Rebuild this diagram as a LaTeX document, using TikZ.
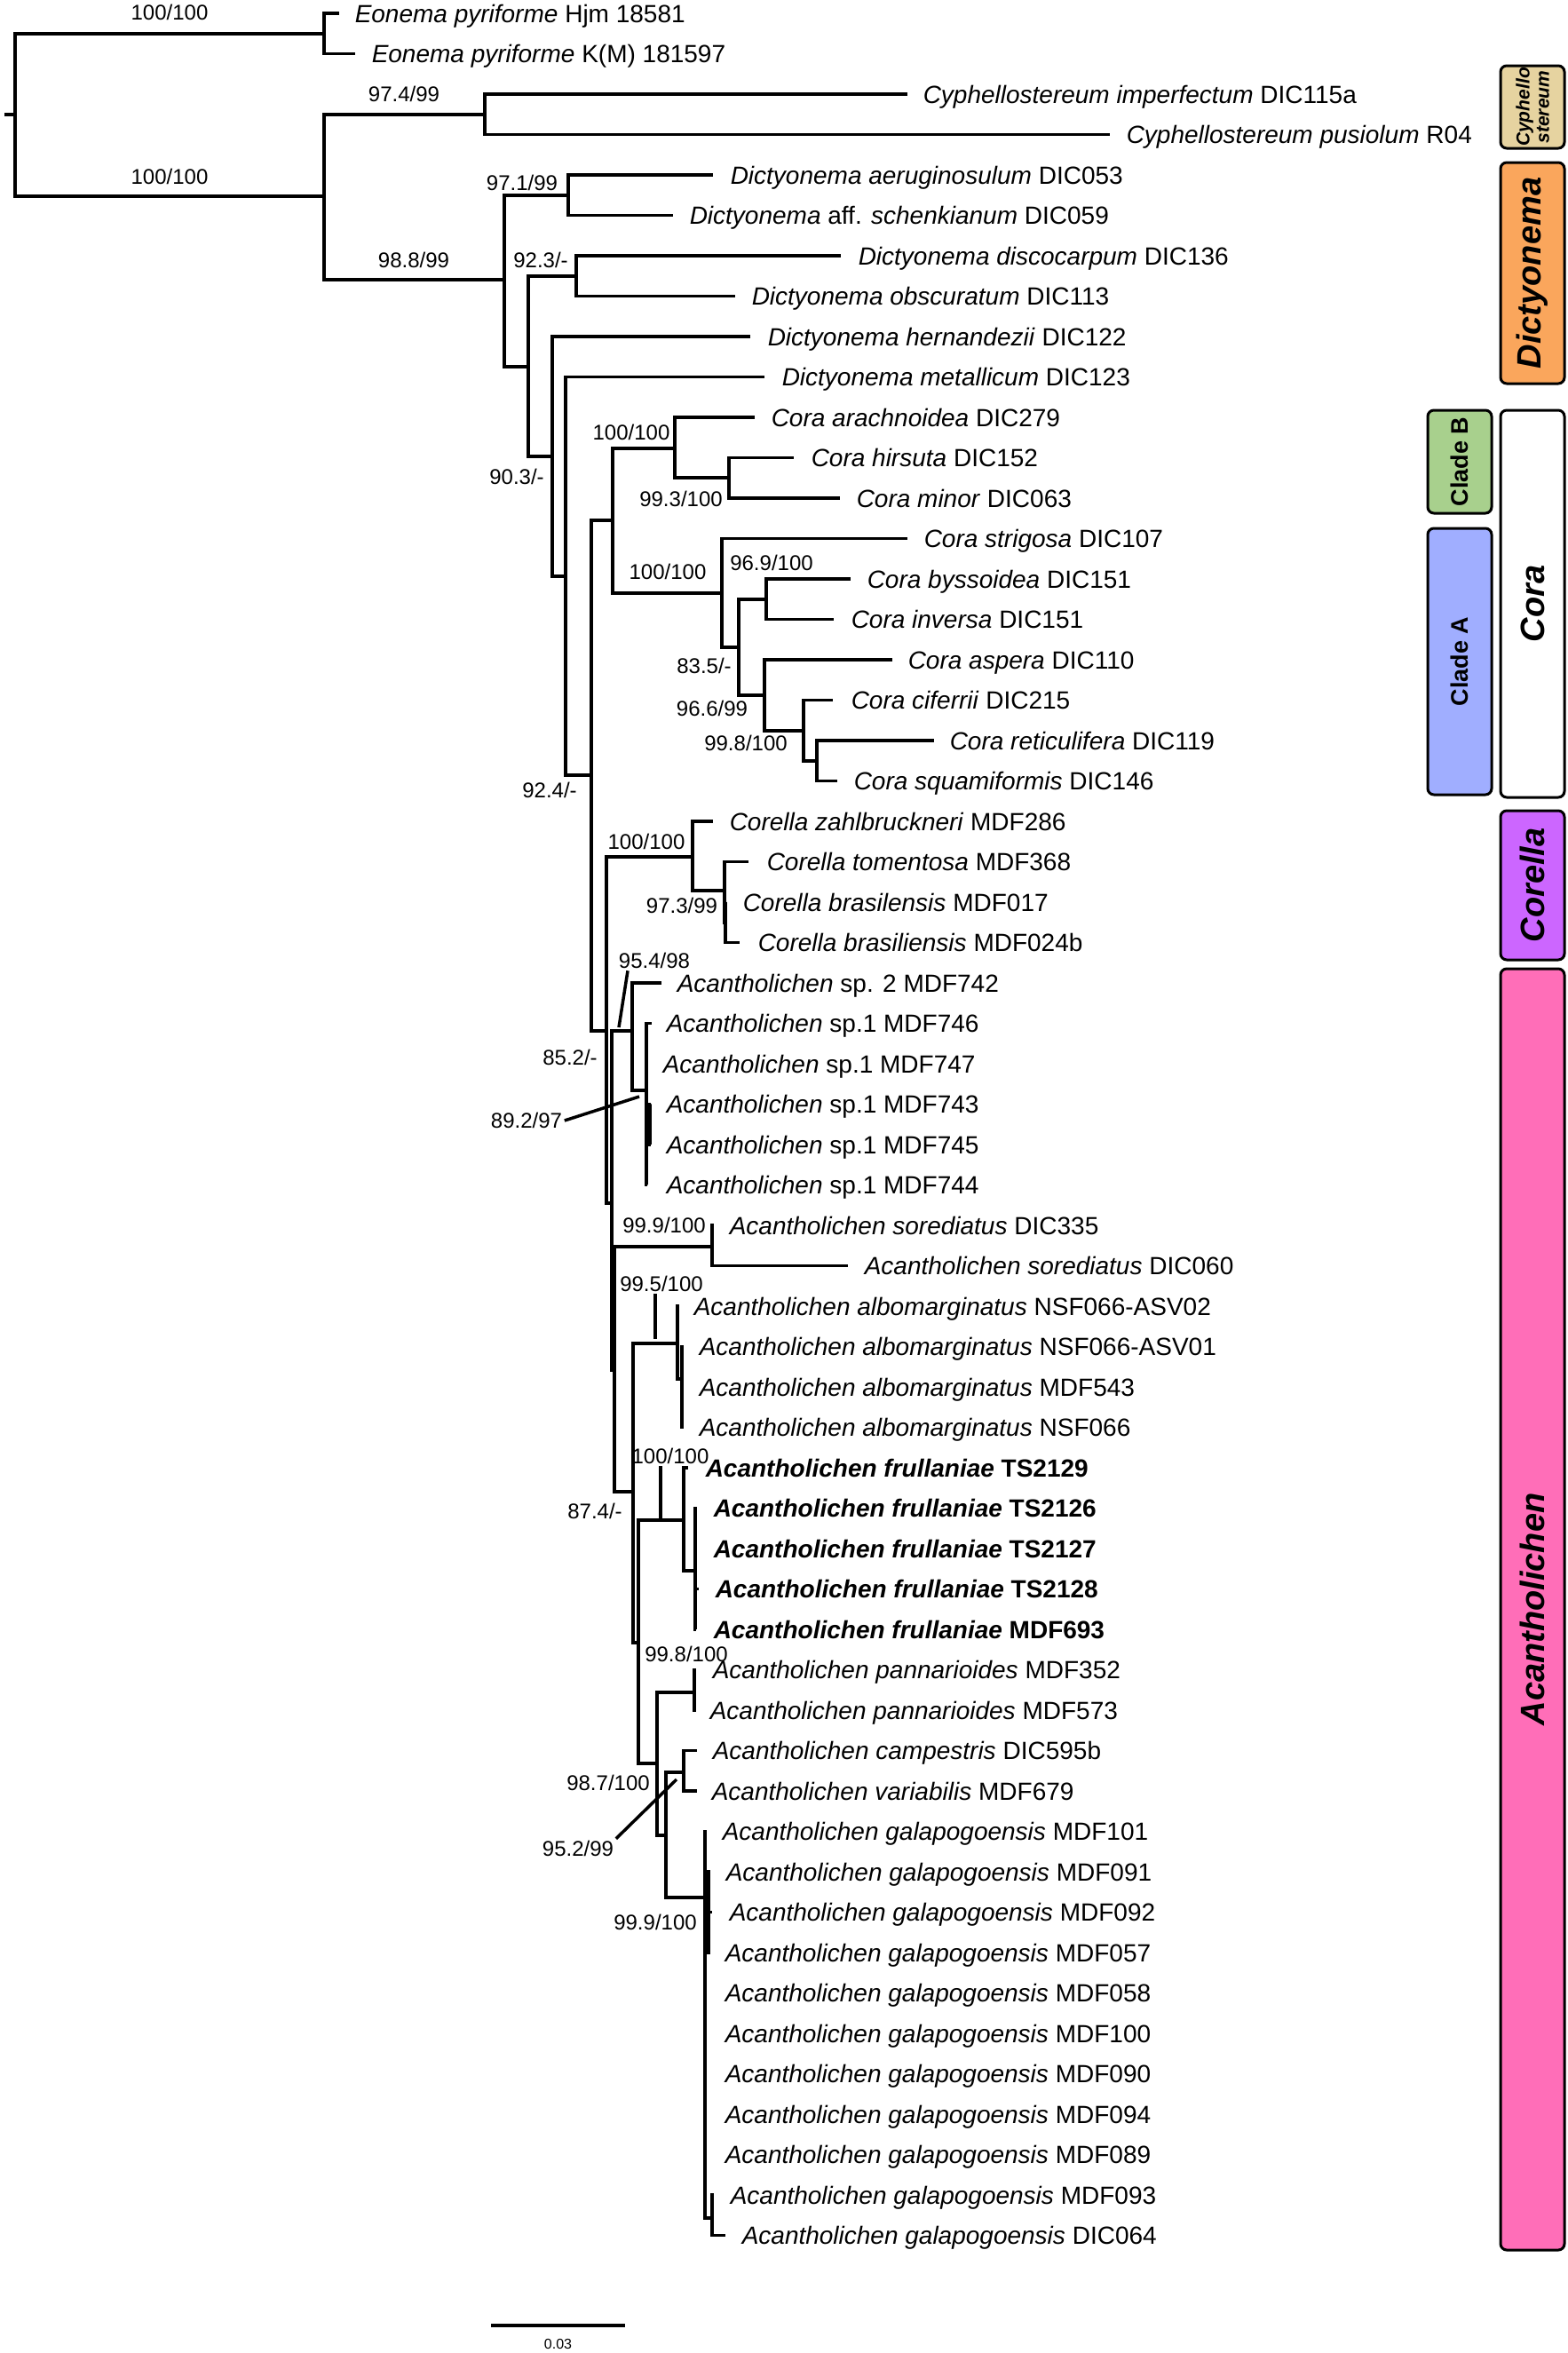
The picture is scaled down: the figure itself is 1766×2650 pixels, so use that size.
\documentclass[tikz,border=0pt]{standalone}
\usepackage{fontspec}
\setmainfont{Liberation Sans}

\definecolor{cyphcol}{RGB}{230,211,160}
\definecolor{dictcol}{RGB}{250,166,92}
\definecolor{cladeBcol}{RGB}{168,208,141}
\definecolor{cladeAcol}{RGB}{160,174,255}
\definecolor{corellacol}{RGB}{204,102,255}
\definecolor{acancol}{RGB}{255,110,184}

\begin{document}
\begin{tikzpicture}[x=1pt,y=-1pt,line width=3.5pt,
  taxon/.style={anchor=west,inner sep=0pt,text height=20pt,text depth=0pt,font=\fontsize{28}{32}\selectfont},
  bs/.style={inner sep=1pt,text height=17pt,text depth=0pt,font=\fontsize{24}{28}\selectfont},
  bar/.style={draw,line width=3pt,rounded corners=7pt,rotate=90,inner sep=0pt,minimum height=72pt,
    font=\fontsize{38}{42}\selectfont\bfseries\itshape}]
  \useasboundingbox (0,0) rectangle (1766,2650);

  \coordinate (stem) at (5,129);
  \coordinate (R) at (17,129);
  \coordinate (Eon) at (365,37.75);
  \coordinate (N1) at (365,221);
  \coordinate (Cyp) at (546,128.75);
  \coordinate (N2) at (568,315);
  \coordinate (D1) at (640,219.75);
  \coordinate (N3) at (595,413);
  \coordinate (D2) at (649,310.75);
  \coordinate (N4) at (622,514);
  \coordinate (N5) at (637,649);
  \coordinate (N6) at (666,873);
  \coordinate (Cora) at (690,586);
  \coordinate (CB) at (760,505);
  \coordinate (CB2) at (821,538);
  \coordinate (CA) at (813,668);
  \coordinate (CA2) at (832,729);
  \coordinate (CA3) at (863,675);
  \coordinate (CA4) at (861,783);
  \coordinate (CA5) at (905,823);
  \coordinate (CA6) at (920,857);
  \coordinate (N7) at (683,1161);
  \coordinate (Cor) at (780,965);
  \coordinate (Cor2) at (816,1003);
  \coordinate (Cor3) at (817,1039);
  \coordinate (N8) at (689,1355);
  \coordinate (Asp) at (712,1161);
  \coordinate (Asp1) at (728,1228);
  \coordinate (Asp2) at (732,1266);
  \coordinate (N9) at (692,1543);
  \coordinate (Sor) at (802,1404);
  \coordinate (N10) at (713,1680);
  \coordinate (Alb) at (763,1513);
  \coordinate (Alb2) at (768,1553);
  \coordinate (N11) at (719,1850);
  \coordinate (Fru) at (770,1712);
  \coordinate (Fru2) at (783,1769);
  \coordinate (N12) at (740,1986);
  \coordinate (Pan) at (782,1906);
  \coordinate (N13) at (750,2067);
  \coordinate (CV) at (770,1996);
  \coordinate (Gal) at (794,2137);
  \coordinate (Gal2) at (798,2153);
  \coordinate (Gal3) at (802,2498);

  \draw (stem) -- (R);
  \foreach \a/\b in {R/Eon,R/N1,N1/Cyp,N1/N2,N2/D1,N2/N3,N3/D2,N3/N4,N4/N5,N5/N6,
      N6/Cora,N6/N7,Cora/CB,Cora/CA,CB/CB2,CA/CA2,CA2/CA3,CA2/CA4,CA4/CA5,CA5/CA6,
      N7/Cor,N7/N8,Cor/Cor2,Cor2/Cor3,N8/Asp,N8/N9,Asp/Asp1,Asp1/Asp2,N9/Sor,N9/N10,
      N10/Alb,N10/N11,Alb/Alb2,N11/Fru,N11/N12,Fru/Fru2,N12/Pan,N12/N13,N13/CV,N13/Gal,
      Gal/Gal2,Gal/Gal3}
    \draw (\a) |- (\b);

  \foreach \p/\r/\tx/\lx/\txt in {
      Eon/1/382/398/{\textit{Eonema pyriforme} Hjm 18581},
      Eon/2/400/417/{\textit{Eonema pyriforme} K(M) 181597},
      Cyp/3/1022/1038/{\textit{Cyphellostereum imperfectum} DIC115a},
      Cyp/4/1250/1267/{\textit{Cyphellostereum pusiolum} R04},
      D1/5/803/821/{\textit{Dictyonema aeruginosulum} DIC053},
      D1/6/758/775/{\textit{Dictyonema} aff. \textit{schenkianum} DIC059},
      D2/7/947/965/{\textit{Dictyonema discocarpum} DIC136},
      D2/8/828/845/{\textit{Dictyonema obscuratum} DIC113},
      N4/9/845/863/{\textit{Dictyonema hernandezii} DIC122},
      N5/10/861/879/{\textit{Dictyonema metallicum} DIC123},
      CB/11/850/867/{\textit{Cora arachnoidea} DIC279},
      CB2/12/894/912/{\textit{Cora hirsuta} DIC152},
      CB2/13/946/963/{\textit{Cora minor} DIC063},
      CA/14/1022/1039/{\textit{Cora strigosa} DIC107},
      CA3/15/958/975/{\textit{Cora byssoidea} DIC151},
      CA3/16/939/957/{\textit{Cora inversa} DIC151},
      CA4/17/1005/1021/{\textit{Cora aspera} DIC110},
      CA5/18/938/957/{\textit{Cora ciferrii} DIC215},
      CA6/19/1052/1068/{\textit{Cora reticulifera} DIC119},
      CA6/20/943/960/{\textit{Cora squamiformis} DIC146},
      Cor/21/803/820/{\textit{Corella zahlbruckneri} MDF286},
      Cor2/22/843/862/{\textit{Corella tomentosa} MDF368},
      Cor3/23/818/835/{\textit{Corella brasilensis} MDF017},
      Cor3/24/833/852/{\textit{Corella brasiliensis} MDF024b},
      Asp/25/745/761/{\textit{Acantholichen} sp. 2 MDF742},
      Asp1/26/734/749/{\textit{Acantholichen} sp.1 MDF746},
      Asp1/27/729/745/{\textit{Acantholichen} sp.1 MDF747},
      Asp2/28/733/749/{\textit{Acantholichen} sp.1 MDF743},
      Asp2/29/733/749/{\textit{Acantholichen} sp.1 MDF745},
      Asp1/30/729/749/{\textit{Acantholichen} sp.1 MDF744},
      Sor/31/804/820/{\textit{Acantholichen sorediatus} DIC335},
      Sor/32/955/972/{\textit{Acantholichen sorediatus} DIC060},
      Alb/33/765/780/{\textit{Acantholichen albomarginatus} NSF066-ASV02},
      Alb2/34/770/786/{\textit{Acantholichen albomarginatus} NSF066-ASV01},
      Alb2/35/770/786/{\textit{Acantholichen albomarginatus} MDF543},
      Alb2/36/770/786/{\textit{Acantholichen albomarginatus} NSF066},
      Fru/37/775/793/{\bfseries\textit{Acantholichen frullaniae} TS2129},
      Fru2/38/785/802/{\bfseries\textit{Acantholichen frullaniae} TS2126},
      Fru2/39/784/802/{\bfseries\textit{Acantholichen frullaniae} TS2127},
      Fru2/40/787/804/{\bfseries\textit{Acantholichen frullaniae} TS2128},
      Fru2/41/784/802/{\bfseries\textit{Acantholichen frullaniae} MDF693},
      Pan/42/784/801/{\textit{Acantholichen pannarioides} MDF352},
      Pan/43/784/798/{\textit{Acantholichen pannarioides} MDF573},
      CV/44/785/801/{\textit{Acantholichen campestris} DIC595b},
      CV/45/785/800/{\textit{Acantholichen variabilis} MDF679},
      Gal/46/796/812/{\textit{Acantholichen galapogoensis} MDF101},
      Gal2/47/800/816/{\textit{Acantholichen galapogoensis} MDF091},
      Gal2/48/802/820/{\textit{Acantholichen galapogoensis} MDF092},
      Gal2/49/800/815/{\textit{Acantholichen galapogoensis} MDF057},
      Gal/50/796/815/{\textit{Acantholichen galapogoensis} MDF058},
      Gal/51/796/815/{\textit{Acantholichen galapogoensis} MDF100},
      Gal/52/796/815/{\textit{Acantholichen galapogoensis} MDF090},
      Gal/53/796/815/{\textit{Acantholichen galapogoensis} MDF094},
      Gal/54/796/815/{\textit{Acantholichen galapogoensis} MDF089},
      Gal3/55/804/821/{\textit{Acantholichen galapogoensis} MDF093},
      Gal3/56/817/834/{\textit{Acantholichen galapogoensis} DIC064}}
  {
    \coordinate (t\r) at (\tx,{15+45.5*(\r-1)});
    \node[taxon] (l\r) at (\lx,{15+45.5*(\r-1)}) {\txt};
    \draw (\p) |- (t\r);
  }

  \foreach \n/\x/\y/\t in {sEon/191/14/{100/100}, sN1/191/199/{100/100}, sCyp/455/106/{97.4/99},
      sN2/466/293/{98.8/99}, sD1/588/206/{97.1/99}, sD2/609/293/{92.3/-}, sN4/582/537/{90.3/-},
      sN6/619/890/{92.4/-}, sCB/711/487/{100/100}, sCB2/767/562/{99.3/100}, sCA/752/644/{100/100},
      sCA3/869/634/{96.9/100}, sCA2/793/750/{83.5/-}, sCA4/802/798/{96.6/99}, sCA5/840/837/{99.8/100},
      sCor/728/948/{100/100}, sCor2/768/1020/{97.3/99}, s954/737/1082/{95.4/98}, sN7/642/1191/{85.2/-},
      s892/593/1262/{89.2/97}, sSor/748/1380/{99.9/100}, s995/745/1446/{99.5/100},
      s100f/755/1640/{100/100}, sN10/670/1702/{87.4/-}, sPan/773/1863/{99.8/100},
      sN12/685/2008/{98.7/100}, s952/651/2082/{95.2/99}, sGal/738/2165/{99.9/100}}
    \node[bs] (\n) at (\x,\y) {\t};

  \coordinate (c954) at (697,1157);
  \coordinate (c892) at (720,1235);
  \coordinate (c995) at (738,1508);
  \coordinate (c100f) at (744,1712);
  \coordinate (c952) at (762,2004);
  \draw ([xshift=-30pt]s954.south) -- (c954);
  \draw (s892.east) -- (c892);
  \draw ([xshift=-7pt]s995.south) -- (c995);
  \draw ([xshift=-11pt]s100f.south) -- (c100f);
  \draw (s952.north east) -- (c952);

  \node[bar,fill=cyphcol,minimum width=93pt,align=center,
    font=\fontsize{21}{22}\selectfont\bfseries\itshape] (bCyp) at (1726,120.5) {Cyphello\\stereum};
  \node[bar,fill=dictcol,minimum width=249pt] (bDict) at (1726,307.5) {Dictyonema};
  \node[bar,fill=cladeBcol,minimum width=116pt,font=\fontsize{27}{30}\selectfont\bfseries] (bB) at (1644,520) {Clade B};
  \node[bar,fill=cladeAcol,minimum width=300pt,font=\fontsize{27}{30}\selectfont\bfseries] (bA) at (1644,745) {Clade A};
  \node[bar,fill=white,minimum width=436pt] (bCora) at (1726,680) {Cora};
  \node[bar,fill=corellacol,minimum width=168pt] (bCorella) at (1726,997) {Corella};
  \node[bar,fill=acancol,minimum width=1443pt] (bAcan) at (1726,1812.5) {Acantholichen};

  \coordinate (sbL) at (553,2619);
  \coordinate (sbR) at (704,2619);
  \draw (sbL) -- node[below=10pt,font=\fontsize{16}{18}\selectfont] (sbt) {0.03} (sbR);
\end{tikzpicture}
\end{document}
